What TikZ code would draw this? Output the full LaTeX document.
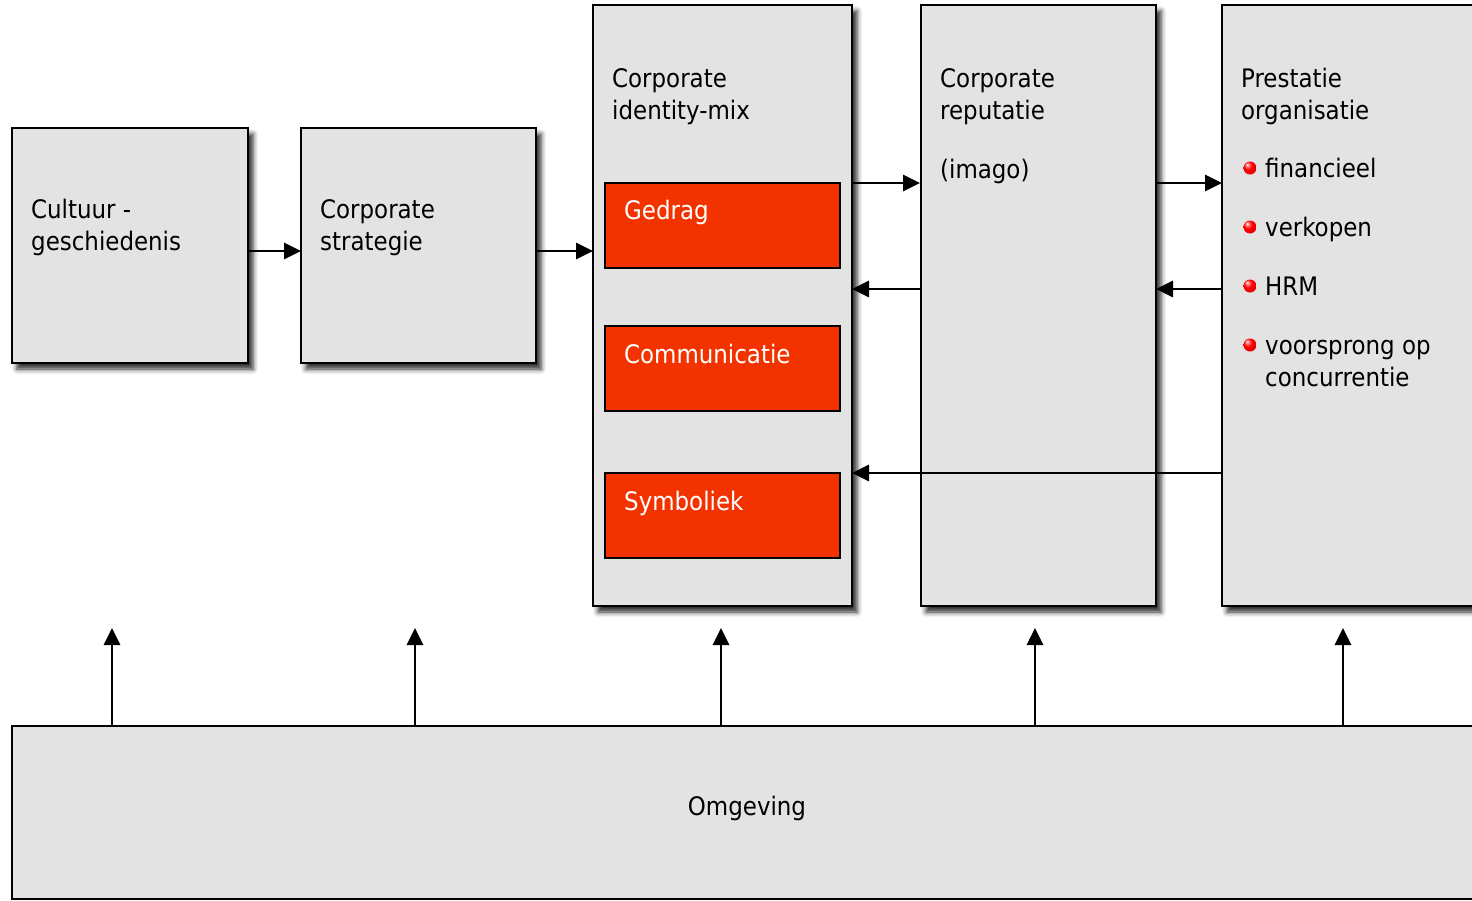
\documentclass[tikz,border=0pt]{standalone}
\usepackage{fontspec}
\setmainfont{DejaVu Sans Condensed}
\usetikzlibrary{arrows.meta,shadows.blur,calc}

\definecolor{boxgray}{RGB}{227,227,227}
\definecolor{mixred}{RGB}{242,51,0}

% glossy red bullet
\pgfdeclareradialshading{redball}{\pgfpoint{-12bp}{14bp}}{%
  color(0bp)=(white); color(7bp)=(red!55!white); color(16bp)=(red);
  color(34bp)=(red!85!black); color(50bp)=(red!55!black)}

\tikzset{
  x=1pt, y=-1pt,
  panel/.style={draw=black, line width=2.6pt, fill=boxgray, anchor=north west,
    inner sep=0pt, outer sep=0pt,
    blur shadow={shadow xshift=5pt, shadow yshift=-6pt, shadow blur radius=5pt,
      shadow opacity=85}},
  flatpanel/.style={draw=black, line width=2.6pt, fill=boxgray, anchor=north west,
    inner sep=0pt, outer sep=0pt},
  redbox/.style={draw=black, line width=2pt, fill=mixred, anchor=north west,
    inner sep=0pt, outer sep=0pt, minimum width=235pt, minimum height=85pt},
  label/.style={anchor=base west, inner sep=0pt, align=left,
    font=\fontsize{25.5}{32}\selectfont},
  whitelabel/.style={label, text=white},
  arr/.style={line width=2.8pt, -{Triangle[length=17pt,width=16pt]}},
  dot/.style={circle, inner sep=0pt, minimum size=13pt, shading=redball},
}

\begin{document}
\begin{tikzpicture}
\useasboundingbox (0,0) rectangle (1472,900);
\clip (0,0) rectangle (1472,900);

% main boxes
\node[panel, minimum width=236pt, minimum height=235pt] (cult) at (12,128) {};
\node[panel, minimum width=235pt, minimum height=235pt] (strat) at (301,128) {};
\node[panel, minimum width=259pt, minimum height=601pt] (mix) at (593,5) {};
\node[panel, minimum width=235pt, minimum height=601pt] (rep) at (921,5) {};
\node[panel, minimum width=300pt, minimum height=601pt] (prest) at (1222,5) {};
\node[flatpanel, minimum width=1500pt, minimum height=173pt] (omg) at (12,726) {};

% identity-mix elements
\node[redbox] (gedrag) at (605,183) {};
\node[redbox] (comm) at (605,326) {};
\node[redbox] (symb) at (605,473) {};

% texts (multi-line nodes are placed by the baseline of their last line)
\node[label] (tcult) at (31,250) {Cultuur -\\geschiedenis};
\node[label] (tstrat) at (320,250) {Corporate\\strategie};
\node[label] (tmix) at (612,119) {Corporate\\identity-mix};
\node[label] (trep) at (940,119) {Corporate\\reputatie};
\node[label] (timago) at (940,178) {(imago)};
\node[label] (tprest) at (1241,119) {Prestatie\\organisatie};
\node[whitelabel] (tgedrag) at (624,219) {Gedrag};
\node[whitelabel] (tcomm) at (624,363) {Communicatie};
\node[whitelabel] (tsymb) at (624,510) {Symboliek};
\node[label, anchor=base] (tomg) at (747,815) {Omgeving};

% performance bullets
\node[dot] (d1) at (1250,168) {};
\node[dot] (d2) at (1250,227) {};
\node[dot] (d3) at (1250,286) {};
\node[dot] (d4) at (1250,345) {};
\node[label] (b1) at (1265,177) {financieel};
\node[label] (b2) at (1265,236) {verkopen};
\node[label] (b3) at (1265,295) {HRM};
\node[label] (b4) at (1265,386) {voorsprong op\\concurrentie};

% horizontal connectors
\draw[arr] (cult.east |- 0,251) -- (strat.west |- 0,251);
\draw[arr] (strat.east |- 0,251) -- (mix.west |- 0,251);
\draw[arr] (mix.east |- 0,183) -- ([xshift=-1pt]rep.west |- 0,183);
\draw[arr] (rep.west |- 0,289) -- (mix.east |- 0,289);
\draw[arr] (rep.east |- 0,183) -- (prest.west |- 0,183);
\draw[arr] (prest.west |- 0,289) -- (rep.east |- 0,289);
\draw[arr] (prest.west |- 0,473) -- (mix.east |- 0,473);

% environment influences
\foreach \xx/\nm in {112/cult, 415/strat, 721/mix, 1035/rep, 1343/prest}{
  \coordinate (up-\nm) at (\xx,628);
  \draw[arr] (omg.north -| up-\nm) -- (up-\nm);
}
\end{tikzpicture}
\end{document}
